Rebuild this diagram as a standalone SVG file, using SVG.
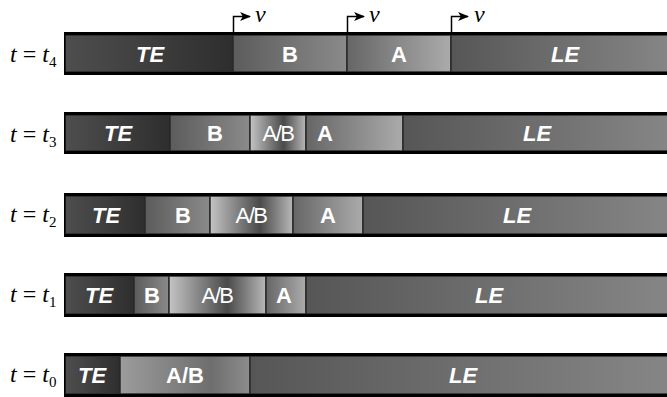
<svg xmlns="http://www.w3.org/2000/svg" width="667" height="397" viewBox="0 0 667 397">
<defs>
<linearGradient id="gTE" x1="0" y1="0" x2="1" y2="0"><stop offset="0" stop-color="#4e4e4e"/><stop offset="1" stop-color="#2e2e2e"/></linearGradient>
<linearGradient id="gB" x1="0" y1="0" x2="1" y2="0"><stop offset="0" stop-color="#5c5c5c"/><stop offset="1" stop-color="#8a8a8a"/></linearGradient>
<linearGradient id="gA" x1="0" y1="0" x2="1" y2="0"><stop offset="0" stop-color="#666"/><stop offset="1" stop-color="#ababab"/></linearGradient>
<linearGradient id="gLE" x1="0" y1="0" x2="1" y2="0"><stop offset="0" stop-color="#565656"/><stop offset="1" stop-color="#868686"/></linearGradient>
<linearGradient id="gAB" x1="0" y1="0" x2="1" y2="0"><stop offset="0" stop-color="#c4c4c4"/><stop offset="0.6" stop-color="#4a4a4a"/><stop offset="1" stop-color="#b8b8b8"/></linearGradient>
<linearGradient id="gAB0" x1="0" y1="0" x2="1" y2="0"><stop offset="0" stop-color="#9c9c9c"/><stop offset="0.7" stop-color="#6e6e6e"/><stop offset="1" stop-color="#8c8c8c"/></linearGradient>
<marker id="ah" viewBox="0 0 10 10" refX="9" refY="5" markerWidth="11" markerHeight="9" markerUnits="userSpaceOnUse" orient="auto" preserveAspectRatio="none"><path d="M0,0 L10,5 L0,10 L2.5,5 z" fill="#000"/></marker>
</defs>
<style>
.seg{stroke:#2a2a2a;stroke-width:1.5}
.edge{fill:#000}
.lb{font-family:"Liberation Sans",Arial,sans-serif;font-size:22px;font-weight:bold;fill:#fff;text-anchor:middle}
.it{font-style:italic}
.nb{font-weight:normal;letter-spacing:-1.5px}
.tl{font-family:"Liberation Serif","Times New Roman",serif;font-size:24px;fill:#000}
.sub{font-size:15px}
.v{font-family:"Liberation Serif","Times New Roman",serif;font-size:24px;font-style:italic;fill:#000}
.arr{fill:none;stroke:#000;stroke-width:1.5}
</style>

<g id="row-t4">
<text class="tl" x="10" y="62"><tspan font-style="italic">t</tspan> = <tspan font-style="italic">t</tspan><tspan class="sub" dy="5">4</tspan></text>
<rect class="seg" x="65" y="35" width="168" height="37" fill="url(#gTE)"/>
<rect class="seg" x="233" y="35" width="114" height="37" fill="url(#gB)"/>
<rect class="seg" x="347" y="35" width="104" height="37" fill="url(#gA)"/>
<rect class="seg" x="451" y="35" width="220" height="37" fill="url(#gLE)"/>
<rect class="edge" x="64" y="32" width="603" height="3"/>
<rect class="edge" x="64" y="72" width="603" height="3"/>
<rect class="edge" x="64" y="32" width="1.5" height="43"/>
<text class="lb it" x="150" y="61.5">TE</text>
<text class="lb" x="290" y="61.5">B</text>
<text class="lb" x="399" y="61.5">A</text>
<text class="lb it" x="565" y="61.5">LE</text>
</g>

<g id="row-t3">
<text class="tl" x="10" y="142"><tspan font-style="italic">t</tspan> = <tspan font-style="italic">t</tspan><tspan class="sub" dy="5">3</tspan></text>
<rect class="seg" x="65" y="115" width="105" height="36" fill="url(#gTE)"/>
<rect class="seg" x="170" y="115" width="80" height="36" fill="url(#gB)"/>
<rect class="seg" x="250" y="115" width="56" height="36" fill="url(#gAB)"/>
<rect class="seg" x="306" y="115" width="97" height="36" fill="url(#gA)"/>
<rect class="seg" x="403" y="115" width="268" height="36" fill="url(#gLE)"/>
<rect class="edge" x="64" y="112" width="603" height="3"/>
<rect class="edge" x="64" y="151" width="603" height="3"/>
<rect class="edge" x="64" y="112" width="1.5" height="42"/>
<text class="lb it" x="118" y="141">TE</text>
<text class="lb" x="215" y="141">B</text>
<text class="lb nb" x="278" y="141">A/B</text>
<text class="lb" x="325" y="141">A</text>
<text class="lb it" x="537" y="141">LE</text>
</g>

<g id="row-t2">
<text class="tl" x="10" y="222"><tspan font-style="italic">t</tspan> = <tspan font-style="italic">t</tspan><tspan class="sub" dy="5">2</tspan></text>
<rect class="seg" x="65" y="196" width="80" height="38" fill="url(#gTE)"/>
<rect class="seg" x="145" y="196" width="65" height="38" fill="url(#gB)"/>
<rect class="seg" x="210" y="196" width="83" height="38" fill="url(#gAB)"/>
<rect class="seg" x="293" y="196" width="70" height="38" fill="url(#gA)"/>
<rect class="seg" x="363" y="196" width="308" height="38" fill="url(#gLE)"/>
<rect class="edge" x="64" y="193" width="603" height="3"/>
<rect class="edge" x="64" y="234" width="603" height="3"/>
<rect class="edge" x="64" y="193" width="1.5" height="44"/>
<text class="lb it" x="106" y="223">TE</text>
<text class="lb" x="183" y="223">B</text>
<text class="lb nb" x="251" y="223">A/B</text>
<text class="lb" x="328" y="223">A</text>
<text class="lb it" x="517" y="223">LE</text>
</g>

<g id="row-t1">
<text class="tl" x="10" y="302"><tspan font-style="italic">t</tspan> = <tspan font-style="italic">t</tspan><tspan class="sub" dy="5">1</tspan></text>
<rect class="seg" x="65" y="276" width="69" height="38" fill="url(#gTE)"/>
<rect class="seg" x="134" y="276" width="35" height="38" fill="url(#gB)"/>
<rect class="seg" x="169" y="276" width="97" height="38" fill="url(#gAB)"/>
<rect class="seg" x="266" y="276" width="40" height="38" fill="url(#gA)"/>
<rect class="seg" x="306" y="276" width="365" height="38" fill="url(#gLE)"/>
<rect class="edge" x="64" y="273" width="603" height="3"/>
<rect class="edge" x="64" y="314" width="603" height="3"/>
<rect class="edge" x="64" y="273" width="1.5" height="44"/>
<text class="lb it" x="99" y="303">TE</text>
<text class="lb" x="152" y="303">B</text>
<text class="lb nb" x="217" y="303">A/B</text>
<text class="lb" x="284" y="303">A</text>
<text class="lb it" x="489" y="303">LE</text>
</g>

<g id="row-t0">
<text class="tl" x="10" y="382"><tspan font-style="italic">t</tspan> = <tspan font-style="italic">t</tspan><tspan class="sub" dy="5">0</tspan></text>
<rect class="seg" x="65" y="356" width="55" height="38" fill="url(#gTE)"/>
<rect class="seg" x="120" y="356" width="130" height="38" fill="url(#gAB0)"/>
<rect class="seg" x="250" y="356" width="421" height="38" fill="url(#gLE)"/>
<rect class="edge" x="64" y="353" width="603" height="3"/>
<rect class="edge" x="64" y="394" width="603" height="3"/>
<rect class="edge" x="64" y="353" width="1.5" height="44"/>
<text class="lb it" x="92" y="383">TE</text>
<text class="lb" x="185" y="383">A/B</text>
<text class="lb it" x="463" y="383">LE</text>
</g>

<g id="connectors">
<path class="arr" d="M233.5,32 V16.5 H250" marker-end="url(#ah)"/>
<path class="arr" d="M347.5,32 V16.5 H364" marker-end="url(#ah)"/>
<path class="arr" d="M451.5,32 V16.5 H468" marker-end="url(#ah)"/>
<text class="v" x="255" y="21.5">v</text>
<text class="v" x="369" y="21.5">v</text>
<text class="v" x="474" y="21.5">v</text>
</g>
</svg>
